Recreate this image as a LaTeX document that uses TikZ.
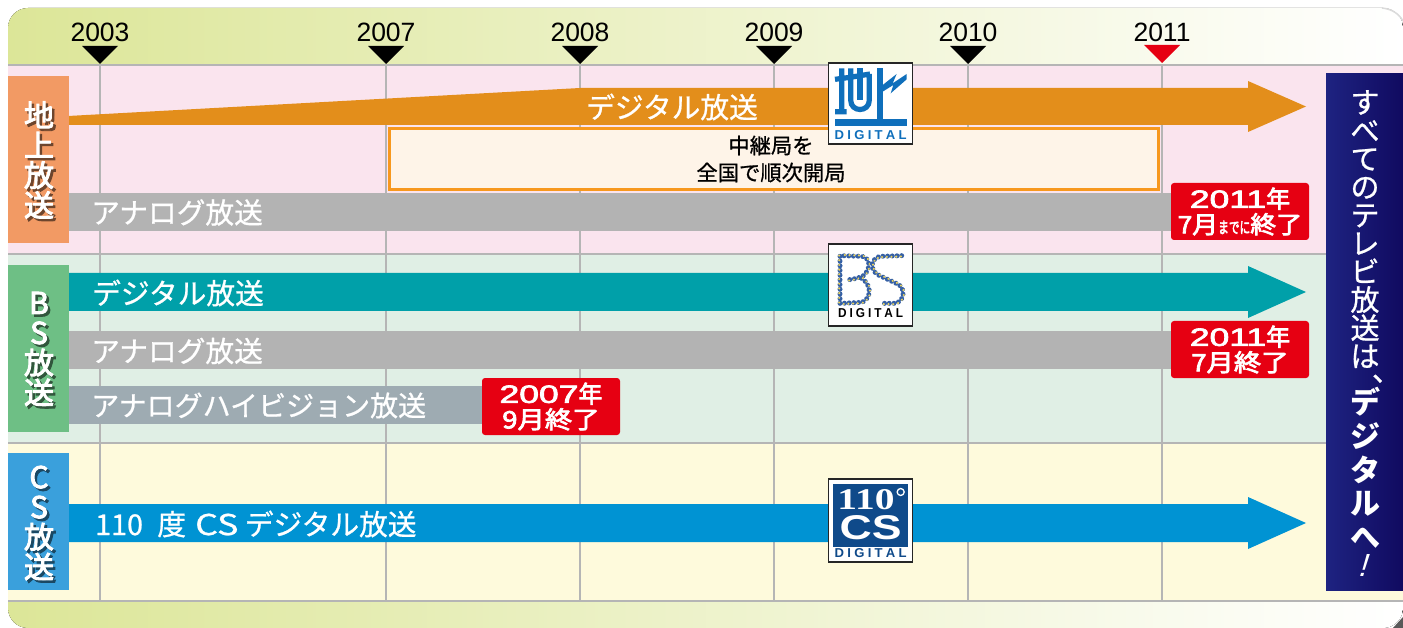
\documentclass[tikz,border=0pt]{standalone}
\usepackage{fontspec}
\setmainfont{Liberation Sans}
\newfontfamily\cjk{Noto Sans CJK JP}
\newfontfamily\cjkmed[FakeBold=0.8]{Noto Sans CJK JP}
\newfontfamily\cjksemi[FakeBold=3]{Noto Sans CJK JP}
\newfontfamily\numfont[FakeBold=2.5]{Liberation Sans}
\usetikzlibrary{decorations.markings}
\definecolor{stripgreen}{HTML}{DCE698}
\definecolor{bandpink}{HTML}{FAE4EE}
\definecolor{bandgreen}{HTML}{E0EFE5}
\definecolor{bandyellow}{HTML}{FEFADC}
\definecolor{ruleline}{HTML}{B5B5B5}
\definecolor{tabone}{HTML}{F29A64}
\definecolor{tabtwo}{HTML}{6EBF85}
\definecolor{tabthree}{HTML}{3AA0DC}
\definecolor{arrorange}{HTML}{E38E1B}
\definecolor{arrteal}{HTML}{00A0A9}
\definecolor{arrblue}{HTML}{0093D3}
\definecolor{bargray}{HTML}{B3B3B3}
\definecolor{barhv}{HTML}{9EABB2}
\definecolor{endred}{HTML}{E60012}
\definecolor{relayfill}{HTML}{FEF4E8}
\definecolor{relayline}{HTML}{F7981D}
\definecolor{panelleft}{HTML}{1E2381}
\definecolor{panelright}{HTML}{100A60}
\definecolor{logoblue}{HTML}{0F6FBB}
\definecolor{logonavy}{HTML}{0F4A8A}
\definecolor{dotblue}{HTML}{3560A5}
\definecolor{dotyellow}{HTML}{E6D060}
\newcommand{\widenum}[1]{\scalebox{1.42}[1]{\numfont\fontsize{25}{25}\selectfont #1}}
\newcommand{\digitaltext}{D\hspace{.25em}I\hspace{.25em}G\hspace{.25em}I\hspace{.25em}T\hspace{.25em}A\hspace{.25em}L}
\newcommand{\tabtext}[5]{%
	\node[tabchars,text=#4] (#5s) at (#1+2.5,#2+2.5) {#3};
	\node[tabchars] (#5) at (#1,#2) {#3};}
\begin{document}
\begin{tikzpicture}[x=1pt,y=-1pt,
	yearlabel/.style={font=\fontsize{26.5}{26.5}\selectfont,inner sep=0pt},
	barlabel/.style={anchor=west,inner sep=0pt,text=white,font=\cjkmed\fontsize{28.7}{28.7}\selectfont},
	tabchars/.style={inner sep=0pt,text=white,align=center,font=\cjksemi\fontsize{30}{30}\selectfont},
	endlabel/.style={fill=endred,rounded corners=3pt,minimum width=138pt,minimum height=57pt,inner sep=0pt,text=white,align=center,font=\cjksemi\fontsize{24}{25.5}\selectfont},
	logobox/.style={fill=white,draw=black!85,line width=1.2pt,minimum width=84pt,inner sep=0pt},
	logoline/.style={draw=logoblue,line width=5.2pt},
	digital/.style={inner sep=0pt,font=\bfseries}]
	\useasboundingbox (0,0) rectangle (1403,628);
	\fill[left color=stripgreen,right color=white,rounded corners=20pt] (8,8) rectangle (1403,628);
	\fill[bandpink] (8,65) rectangle (1403,254);
	\fill[bandgreen] (8,254) rectangle (1403,443);
	\fill[bandyellow] (8,443) rectangle (1403,601);
	\foreach \yy in {65,254,443,601}
		\draw[ruleline,line width=2pt] (8,\yy) -- (1403,\yy);
	\foreach \xx in {100,386,580,774,968,1162}
		\draw[ruleline,line width=1.6pt] (\xx,65) -- (\xx,601);
	\fill[black!65] (1403,617) -- (1403,628) -- (1393,628) -- cycle;
	\draw[black!14,line width=1.5pt] (1382,8) .. controls (1392,9) and (1399,14) .. (1403,21);
	\foreach \yr/\xx in {2003/100,2007/386,2008/580,2009/774,2010/968,2011/1162}
		\node[yearlabel] (year\yr) at (\xx,32) {\yr};
	\foreach \xx in {100,386,580,774,968}
		\fill[black] (\xx-18,46) -- (\xx+18,46) -- (\xx,64) -- cycle;
	\fill[endred] (1162-18,45) -- (1162+18,45) -- (1162,63) -- cycle;

	\fill[arrorange] (68,116) -- (580,88) -- (1248,88) -- (1248,81) -- (1306,106.5) -- (1248,132) -- (1248,125) -- (68,125) -- cycle;
	\foreach \col/\yy in {arrteal/273,arrblue/504}
		\fill[\col] (68,\yy) -- (1248,\yy) -- (1248,\yy-7) -- (1306,\yy+19) -- (1248,\yy+45) -- (1248,\yy+38) -- (68,\yy+38) -- cycle;
	\fill[bargray] (68,193) rectangle (1172,231);
	\fill[bargray] (68,331) rectangle (1172,369);
	\fill[barhv] (68,386) rectangle (482,424);

	\node[barlabel] (digiground) at (586,107) {デジタル放送};
	\node[barlabel] (anaground) at (91,212.5) {アナログ放送};
	\node[barlabel] (digibs) at (92,293) {デジタル放送};
	\node[barlabel] (anabs) at (91,351) {アナログ放送};
	\node[barlabel,font=\cjkmed\fontsize{28}{28}\selectfont] (anahv) at (91,405.5) {アナログハイビジョン放送};
	\node[barlabel] (digics) at (95,524) {110 \hspace{8pt}度 \hspace{2.6pt}\scalebox{1.25}[1]{CS} デジタル放送};

	\draw[relayline,fill=relayfill,line width=3pt] (389,129) rectangle (1158,190);
	\node[inner sep=0pt,align=center,font=\cjkmed\fontsize{21.3}{27}\selectfont] (relay) at (771,159) {中継局を\\全国で順次開局};

	\node[endlabel] (endone) at (1240,211.5) {\widenum{2011}年\\\scalebox{1.08}[1]{7月\scalebox{0.62}[1]{\fontsize{16}{16}\selectfont までに}終了}};
	\node[endlabel] (endtwo) at (1240,349.5) {\widenum{2011}年\\\scalebox{1.14}[1]{7月終了}};
	\node[endlabel] (endthree) at (551,406.5) {\widenum{2007}年\\\scalebox{1.14}[1]{9月終了}};

	\fill[tabone] (8,76) rectangle (69,243);
	\fill[tabtwo] (8,265) rectangle (69,432);
	\fill[tabthree] (8,453) rectangle (69,590);
	\tabtext{39}{160}{地\\上\\放\\送}{tabone!45!black}{tabground}
	\tabtext{39}{349}{B\\S\\放\\送}{tabtwo!45!black}{tabbs}
	\tabtext{39}{523}{C\\S\\放\\送}{tabthree!45!black}{tabcs}

	\fill[left color=panelleft,right color=panelright] (1326,74) rectangle (1403,590);
	\node[anchor=north,inner sep=0pt,text=white,align=center,font=\cjkmed\fontsize{29}{28.2}\selectfont] (panelone) at (1365,90) {す\\べ\\て\\の\\テ\\レ\\ビ\\放\\送\\は\\\smash{\makebox[0pt]{\hspace{43pt}\raisebox{14pt}{、}}}};
	\node[inner sep=0pt,text=white,align=center,font=\cjk\bfseries\fontsize{30}{33.7}\selectfont] (paneltwo) at (1365,468) {デ\\ジ\\タ\\ル\\へ};
	\node[inner sep=0pt,text=white,xslant=0.3,font=\fontsize{32}{32}\selectfont] (panelmark) at (1365,565) {!};

	% ground logo
	\node[logobox,minimum height=81pt] (logoground) at (870.5,103.5) {};
	\begin{scope}[shift={(800,50)},x=1/3*1pt,y=-1/3*1pt]
		\draw[logoline] (105,88) -- (150,82) (125,55) -- (125,185) (105,185) -- (140,185);
		\draw[logoline] (150,82) -- (210,72) (152,55) -- (152,150) .. controls (152,188) and (208,188) .. (208,150) -- (208,72);
		\draw[logoline] (180,55) -- (180,150);
		\draw[logoline,line width=6.5pt] (240,55) -- (240,210);
		\fill[logoblue] (105,207) rectangle (320,228);
		\fill[logoblue] (248,105) -- (290,72) -- (278,100) -- (320,72) -- (320,88) -- (272,130) -- (280,105) -- (248,125) -- cycle;
		\node[digital,text=logoblue] (digitalground) at (212,254) {\resizebox{72pt}{9pt}{\digitaltext}};
	\end{scope}

	% bs logo
	\node[logobox,minimum height=82pt] (logobs) at (870.5,285) {};
	\begin{scope}[shift={(800,235)},x=1/3*1pt,y=-1/3*1pt,
		dotted/.style={postaction={decorate},decoration={markings,mark=between positions 0 and 1 step 4.7pt with {\fill[dotblue] (0,0) circle (2.5pt);\fill[dotyellow] (0.8pt,0.8pt) circle (1.2pt);}}}]
		\path[dotted] (120,205) -- (120,62) -- (185,64) .. controls (215,70) and (210,105) .. (190,122) .. controls (175,130) and (160,132) .. (148,134);
		\path[dotted] (185,130) .. controls (215,150) and (215,190) .. (185,202) -- (125,205);
		\path[dotted] (305,62) -- (240,64) .. controls (205,75) and (215,110) .. (235,120) -- (295,148) .. controls (320,165) and (310,205) .. (280,205) -- (240,205);
		\node[digital,text=black] (digitalbs) at (212,235) {\resizebox{65pt}{9pt}{\digitaltext}};
	\end{scope}

	% cs logo
	\node[logobox,minimum height=83pt] (logocs) at (870.5,520.5) {};
	\begin{scope}[shift={(800,470)},x=1/3*1pt,y=-1/3*1pt]
		\fill[logonavy] (98,42) rectangle (325,232);
		\node[inner sep=0pt,text=white,align=center,font=\bfseries] (csname) at (212,135) {\hspace*{-9.4pt}\resizebox{57pt}{20pt}{\fontspec{Liberation Serif}\bfseries 110}\\[5pt]\resizebox{62pt}{24pt}{CS}};
		\draw[white,line width=1.3pt] (302,66) circle (3.5pt);
		\node[digital,text=logonavy] (digitalcs) at (212,250) {\resizebox{72pt}{9pt}{\digitaltext}};
	\end{scope}
\end{tikzpicture}
\end{document}
